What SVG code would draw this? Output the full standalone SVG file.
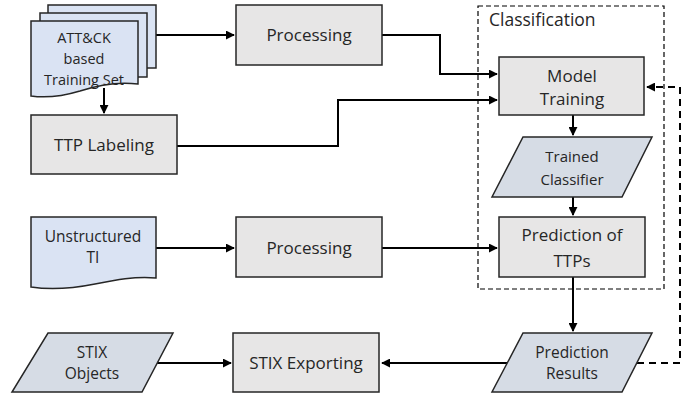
<svg xmlns="http://www.w3.org/2000/svg" width="696" height="394" viewBox="0 0 696 394">
<style>
.box{fill:#e7e6e6;stroke:#262626;stroke-width:1.5}
.doc{fill:#dae3f3;stroke:#262626;stroke-width:1.5}
.para{fill:#d6dce5;stroke:#262626;stroke-width:1.5}
.lbl{font-family:"Open Sans","Liberation Sans",sans-serif;fill:#262626;text-anchor:middle}
.l18{font-size:17px}
.l15{font-size:15.5px}
.l14{font-size:14.5px}
.conn{fill:none;stroke:#000;stroke-width:2}
.dash{fill:none;stroke:#000;stroke-width:2;stroke-dasharray:7,5}
.cls{fill:none;stroke:#000;stroke-width:1.2;stroke-dasharray:5,3}
</style>
<defs>
<marker id="ah" viewBox="0 0 10 10" refX="9" refY="5" markerWidth="4.5" markerHeight="4.5" orient="auto" markerUnits="strokeWidth">
<path d="M0,0 L10,5 L0,10 z" fill="#000"/>
</marker>
</defs>
<rect width="696" height="394" fill="#fff"/>
<g id="classification">
<rect class="cls" x="478" y="6" width="186" height="283"/>
<text x="489" y="26" style="font-family:'Open Sans','Liberation Sans',sans-serif;font-size:17.5px;fill:#262626">Classification</text>
</g>
<g id="connectors">
<path class="conn" d="M156,35 H234" marker-end="url(#ah)"/>
<path class="conn" d="M104,88 V113" marker-end="url(#ah)"/>
<path class="conn" d="M382,35 H440 V74 H497" marker-end="url(#ah)"/>
<path class="conn" d="M177,146 H338 V100 H497" marker-end="url(#ah)"/>
<path class="conn" d="M573,115 V135" marker-end="url(#ah)"/>
<path class="conn" d="M573,197 V215" marker-end="url(#ah)"/>
<path class="conn" d="M156,248 H234" marker-end="url(#ah)"/>
<path class="conn" d="M382,248 H497" marker-end="url(#ah)"/>
<path class="conn" d="M573,277 V331" marker-end="url(#ah)"/>
<path class="conn" d="M507,363 H382" marker-end="url(#ah)"/>
<path class="conn" d="M157,363 H231" marker-end="url(#ah)"/>
<path class="dash" d="M637,363 H680 V87 H647" marker-end="url(#ah)"/>
</g>
<g id="attck-training-set">
<rect class="doc" x="48" y="5" width="108" height="63"/>
<rect class="doc" x="40" y="13" width="107" height="64"/>
<path class="doc" d="M31,21 H138 V84 C115,81 95,86 80,91 C60,97 45,98 31,96 Z"/>
<text class="lbl l14" x="84" y="43">ATT&amp;CK</text>
<text class="lbl l14" x="84" y="64">based</text>
<text class="lbl l14" x="84" y="85">Training Set</text>
</g>
<g id="processing-1">
<rect class="box" x="236" y="5" width="146" height="60"/>
<text class="lbl l18" x="309" y="41">Processing</text>
</g>
<g id="ttp-labeling">
<rect class="box" x="31" y="115" width="146" height="59"/>
<text class="lbl l18" x="104" y="151">TTP Labeling</text>
</g>
<g id="model-training">
<rect class="box" x="499" y="57" width="145" height="58"/>
<text class="lbl l18" x="572" y="82">Model</text>
<text class="lbl l18" x="572" y="105">Training</text>
</g>
<g id="trained-classifier">
<path class="para" d="M523,137 H652 L622,197 H492 Z"/>
<text class="lbl" style="font-size:15px" x="572" y="162">Trained</text>
<text class="lbl" style="font-size:15px" x="572" y="185">Classifier</text>
</g>
<g id="unstructured-ti">
<path class="doc" d="M31,217 H156 V278 C135,276 115,280 95,284 C75,288 50,290 31,287 Z"/>
<text class="lbl l15" x="93" y="242">Unstructured</text>
<text class="lbl l15" x="93" y="263">TI</text>
</g>
<g id="processing-2">
<rect class="box" x="236" y="217" width="146" height="60"/>
<text class="lbl l18" x="309" y="254">Processing</text>
</g>
<g id="prediction-of-ttps">
<rect class="box" x="499" y="217" width="146" height="60"/>
<text class="lbl l18" x="572" y="241">Prediction of</text>
<text class="lbl l18" x="572" y="267">TTPs</text>
</g>
<g id="stix-objects">
<path class="para" d="M48,333 H173 L142,392 H12 Z"/>
<text class="lbl l15" x="92" y="358">STIX</text>
<text class="lbl l15" x="92" y="379">Objects</text>
</g>
<g id="stix-exporting">
<rect class="box" x="233" y="333" width="146" height="59"/>
<text class="lbl l18" x="306" y="369">STIX Exporting</text>
</g>
<g id="prediction-results">
<path class="para" d="M523,333 H652 L622,392 H492 Z"/>
<text class="lbl l15" x="572" y="358">Prediction</text>
<text class="lbl l15" x="572" y="379">Results</text>
</g>
</svg>
